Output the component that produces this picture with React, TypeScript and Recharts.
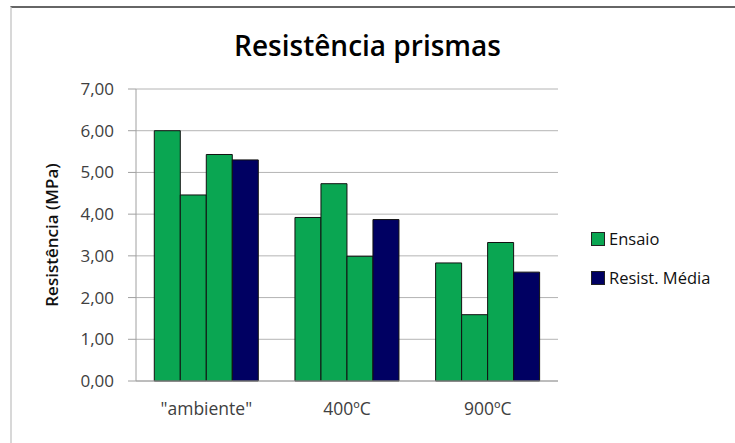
import React from 'react';
import { BarChart, Bar, XAxis, YAxis, CartesianGrid, Label } from 'recharts';

const categories = ['"ambiente"', '400ºC', '900ºC'];
const ensaio1 = [6.0, 3.92, 2.83];
const ensaio2 = [4.46, 4.73, 1.59];
const ensaio3 = [5.43, 2.99, 3.32];
const media = [5.3, 3.87, 2.61];
const yTicks = [0, 1, 2, 3, 4, 5, 6, 7];

const GREEN = '#0aa652';
const NAVY = '#000062';

const chartData = categories.map((name, i) => ({
  name,
  e1: ensaio1[i],
  e2: ensaio2[i],
  e3: ensaio3[i],
  media: media[i],
}));

const legendItems = [
  { label: 'Ensaio', color: GREEN },
  { label: 'Resist. Média', color: NAVY },
];

function LegendBox() {
  return (
    <div
      style={{
        position: 'absolute',
        left: 591,
        top: 219,
        fontFamily: 'Open Sans, sans-serif',
        fontSize: 16.5,
        color: '#111',
      }}
    >
      {legendItems.map(it => (
        <div key={it.label} style={{ display: 'flex', alignItems: 'center', height: 39, whiteSpace: 'nowrap' }}>
          <span
            style={{
              display: 'inline-block',
              width: 12,
              height: 12,
              background: it.color,
              border: '1px solid #222',
              marginRight: 4,
            }}
          />
          {it.label}
        </div>
      ))}
    </div>
  );
}

export default function App() {
  const yFont = { fontFamily: 'Open Sans, sans-serif', fontSize: 17, fill: '#404040' };
  const xFont = { fontFamily: 'Open Sans, sans-serif', fontSize: 17.5, fill: '#404040' };
  return (
    <div
      style={{
        position: 'absolute',
        left: 0,
        top: 0,
        width: 735,
        height: 443,
        background: '#fff',
        overflow: 'hidden',
      }}
    >
      <div
        style={{
          position: 'absolute',
          left: 10,
          top: 6,
          width: 740,
          height: 450,
          borderTop: '2px solid #666',
          borderLeft: '2px solid #d8d8d8',
        }}
      />
      <div
        style={{
          position: 'absolute',
          left: 0,
          top: 26,
          width: 735,
          textAlign: 'center',
          fontFamily: 'Open Sans, sans-serif',
          fontWeight: 600,
          fontSize: 28,
          color: '#000',
        }}
      >
        Resistência prismas
      </div>
      <BarChart
        width={735}
        height={443}
        data={chartData}
        margin={{ top: 89, right: 177, bottom: 32, left: 56 }}
        barGap={0}
        barCategoryGap="13%"
        style={{ position: 'absolute', left: 0, top: 0 }}
      >
        <CartesianGrid vertical={false} stroke="#b4b4b4" />
        <XAxis
          dataKey="name"
          height={30}
          tickLine={false}
          axisLine={{ stroke: '#a0a0a0' }}
          tick={xFont}
          tickMargin={16}
        />
        <YAxis
          domain={[0, 7]}
          ticks={yTicks}
          width={80}
          tickFormatter={(v: number) => v.toFixed(2).replace('.', ',')}
          axisLine={{ stroke: '#a0a0a0' }}
          tickLine={{ stroke: '#a0a0a0' }}
          tickSize={8}
          tickMargin={14}
          tick={yFont}
        >
          <Label
            value="Resistência (MPa)"
            angle={-90}
            position="insideLeft"
            offset={-4}
            style={{ fontFamily: 'Open Sans, sans-serif', fontSize: 17, fontWeight: 600, fill: '#111', textAnchor: 'middle' }}
          />
        </YAxis>
        <Bar dataKey="e1" name="Ensaio" fill={GREEN} stroke="#111" strokeWidth={1} isAnimationActive={false} />
        <Bar dataKey="e2" name="Ensaio" fill={GREEN} stroke="#111" strokeWidth={1} isAnimationActive={false} />
        <Bar dataKey="e3" name="Ensaio" fill={GREEN} stroke="#111" strokeWidth={1} isAnimationActive={false} />
        <Bar dataKey="media" name="Resist. Média" fill={NAVY} stroke="#111" strokeWidth={1} isAnimationActive={false} />
      </BarChart>
      <LegendBox />
    </div>
  );
}
